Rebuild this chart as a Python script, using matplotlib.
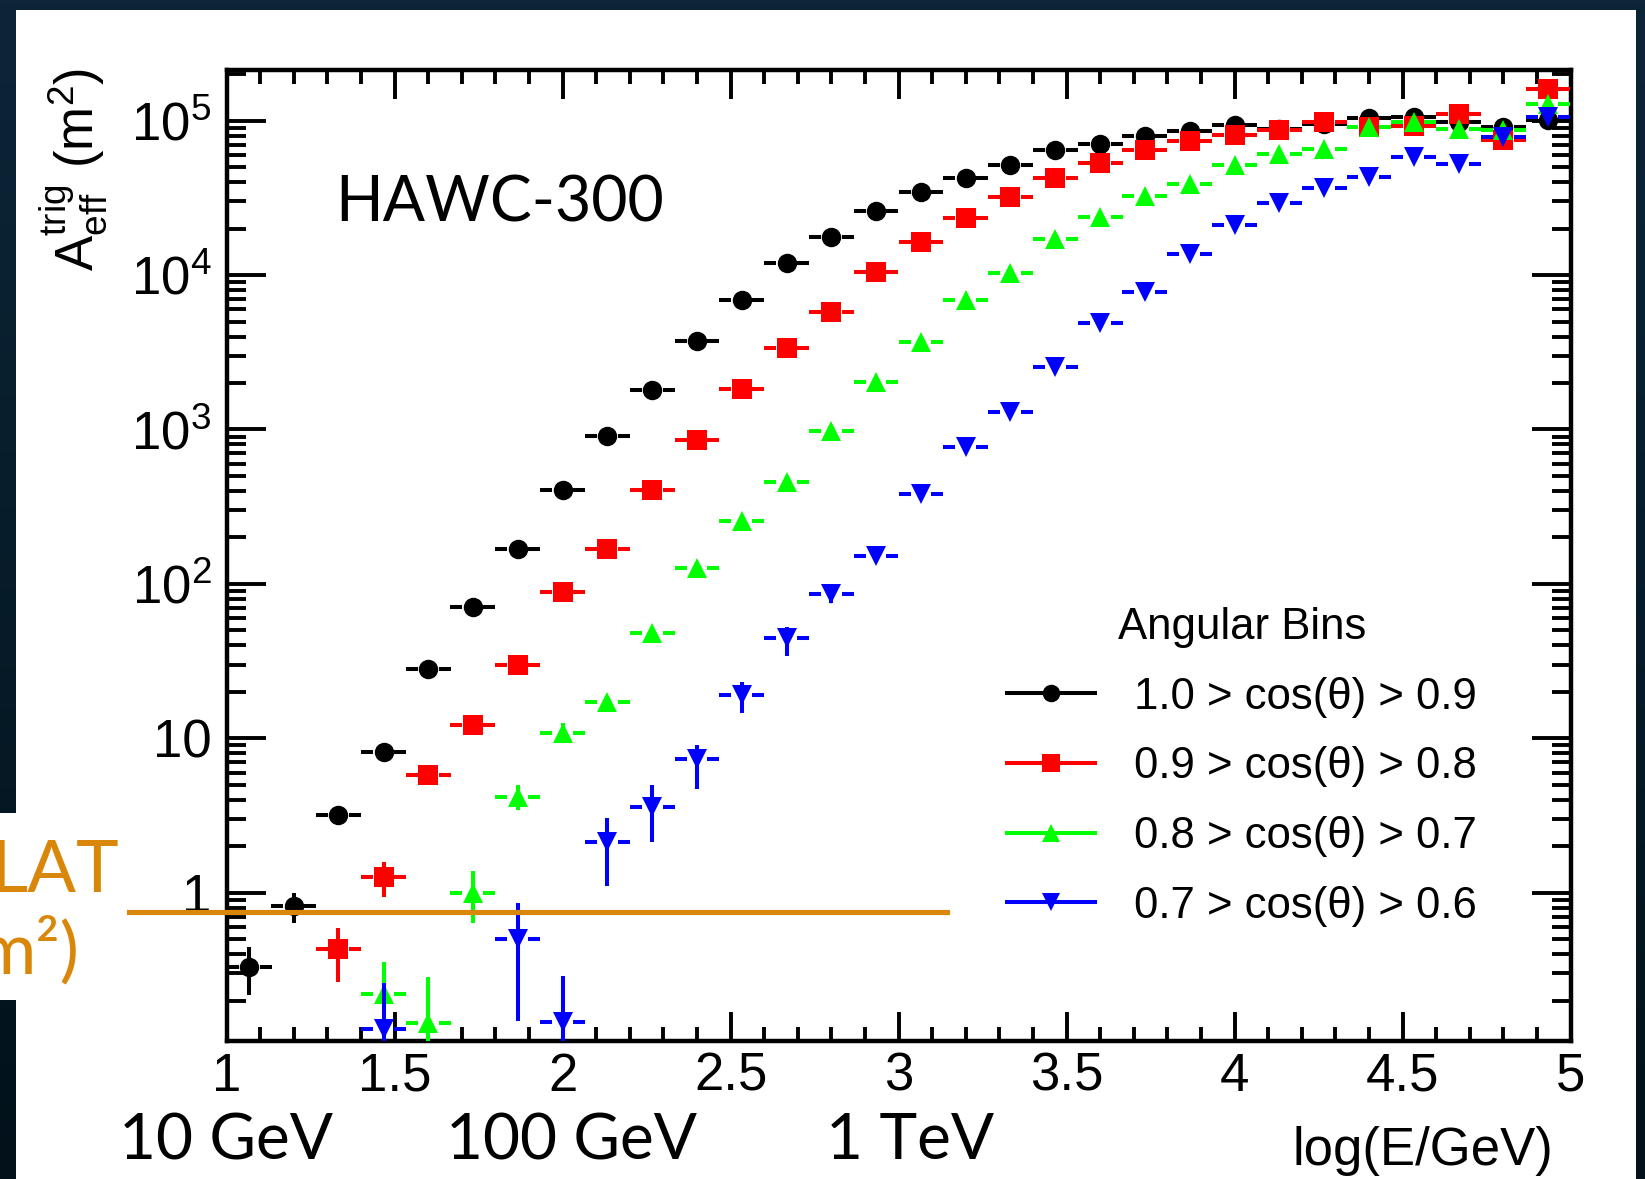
import numpy as np
import matplotlib
matplotlib.use('Agg')
import matplotlib.pyplot as plt
from matplotlib.lines import Line2D
from matplotlib.patches import Rectangle
from matplotlib.colors import LinearSegmentedColormap
from matplotlib.ticker import FixedLocator, FixedFormatter, MultipleLocator, LogLocator, NullFormatter

plt.rcParams['font.family'] = ['Liberation Sans', 'DejaVu Sans']
plt.rcParams['mathtext.default'] = 'regular'
plt.rcParams['mathtext.fontset'] = 'custom'
plt.rcParams['mathtext.rm'] = 'Liberation Sans'
plt.rcParams['mathtext.it'] = 'Liberation Sans:italic'
plt.rcParams['mathtext.bf'] = 'Liberation Sans:bold'

# ---------------- data ----------------
log_e = [1.067, 1.200, 1.333, 1.467, 1.600, 1.733, 1.867, 2.000, 2.133, 2.267,
         2.400, 2.533, 2.667, 2.800, 2.933, 3.067, 3.200, 3.333, 3.467, 3.600,
         3.733, 3.867, 4.000, 4.133, 4.267, 4.400, 4.533, 4.667, 4.800, 4.933]
bin_half_width = 0.0667

N = None
black_vals = [0.33, 0.82, 3.2, 8.1, 28, 71, 169, 406, 902, 1795,
              3740, 6890, 11900, 17600, 26000, 34500, 42300, 51800, 64500, 71000,
              79000, 85500, 94000, 89000, 95000, 104000, 106000, 98500, 90400, 101000]
black_lo = [0.218, 0.635] + [N] * 28
black_hi = [0.447, 1.0] + [N] * 28

red_vals = [N, N, 0.43, 1.27, 5.8, 12.2, 29.8, 88, 169, 406,
            860, 1820, 3360, 5800, 10500, 16300, 23300, 31900, 42300, 53400,
            64500, 74300, 80300, 87000, 98500, 91600, 92500, 110000, 74900, 160000]
red_lo = [N, N, 0.265, 0.935] + [N] * 26
red_hi = [N, N, 0.59, 1.59] + [N] * 26

green_vals = [N, N, N, 0.22, 0.144, 1.0, 4.15, 10.9, 17.2, 48.4,
              126, 254, 460, 975, 2030, 3690, 6890, 10350, 17100, 23700,
              32400, 39100, 51800, 60600, 65600, 91000, 98000, 89000, 87000, 128000]
green_lo = [N, N, N, 0.05, 0.05, 0.64, 3.44, 9.3] + [N] * 22
green_hi = [N, N, N, 0.354, 0.286, 1.39, 5.0, 12.6] + [N] * 22

blue_vals = [N, N, N, 0.131, N, N, 0.50, 0.146, 2.12, 3.6,
             7.3, 19.2, 44.8, 86, 152, 382, 771, 1290, 2530, 4890,
             7810, 13700, 21200, 29500, 36700, 43400, 58500, 52400, 78700, 106000]
blue_lo = [N, N, N, 0.05, N, N, 0.148, 0.05, 1.1, 2.12, 4.7, 14.5, 34.3, 75] + [N] * 16
blue_hi = [N, N, N, 0.26, N, N, 0.855, 0.29, 3.04, 5.0, 9.1, 23.2, 52.3, 99] + [N] * 16

series_labels = ['1.0 > cos(\u03b8) > 0.9', '0.9 > cos(\u03b8) > 0.8',
                 '0.8 > cos(\u03b8) > 0.7', '0.7 > cos(\u03b8) > 0.6']
legend_title = 'Angular Bins'

xtick_vals = [1, 1.5, 2, 2.5, 3, 3.5, 4, 4.5, 5]
xtick_labels = ['1', '1.5', '2', '2.5', '3', '3.5', '4', '4.5', '5']
ytick_vals = [1, 10, 1e2, 1e3, 1e4, 1e5]
ytick_labels = ['1', '10', '$10^{2}$', '$10^{3}$', '$10^{4}$', '$10^{5}$']

lat_area = 0.755
lat_x = [0.71, 3.145]

# ---------------- figure ----------------
W, H = 1645, 1179
fig = plt.figure(figsize=(W / 100, H / 100), dpi=100)

bg = fig.add_axes([0, 0, 1, 1])
bg.set_zorder(-10)
cmap = LinearSegmentedColormap.from_list('bg', ['#0c2638', '#02111a'])
bg.imshow(np.linspace(0, 1, 256).reshape(-1, 1), aspect='auto', cmap=cmap,
          extent=[0, 1, 0, 1], origin='upper')
bg.axis('off')

fig.add_artist(Rectangle((16 / W, 0), 1620 / W, 1169 / H, transform=fig.transFigure,
                         facecolor='white', edgecolor='none', zorder=-5))
fig.add_artist(Rectangle((0, (H - 1000) / H), 17 / W, 187 / H, transform=fig.transFigure,
                         facecolor='white', edgecolor='none', zorder=-5))

ax = fig.add_axes([226.6 / W, (H - 1040.7) / H, (1570.5 - 226.6) / W, (1040.7 - 70.3) / H])
ax.set_facecolor('white')
ax.set_yscale('log')
ax.set_xlim(1, 5)
ax.set_ylim(0.11, 2.12e5)

x = np.array(log_e)
lw = 2.9
gap = 0.031
styles = [
    ('black', 'o', 14, black_vals, black_lo, black_hi),
    ('#ff0000', 's', 14, red_vals, red_lo, red_hi),
    ('#00ff00', '^', 15, green_vals, green_lo, green_hi),
    ('#0000ff', 'v', 15, blue_vals, blue_lo, blue_hi),
]
for i, (c, m, ms, vals, lo, hi) in enumerate(styles):
    y = np.array([np.nan if v is None else v for v in vals], float)
    ylo = np.array([np.nan if v is None else v for v in lo], float)
    yhi = np.array([np.nan if v is None else v for v in hi], float)
    ok = ~np.isnan(y)
    z = 2 + i
    ax.hlines(y[ok], x[ok] - bin_half_width, x[ok] - gap, color=c, lw=lw, zorder=z)
    ax.hlines(y[ok], x[ok] + gap, x[ok] + bin_half_width, color=c, lw=lw, zorder=z)
    me = ~np.isnan(ylo)
    ax.vlines(x[me], ylo[me], yhi[me], color=c, lw=lw, zorder=z)
    ax.plot(x[ok], y[ok], ls='none', marker=m, ms=ms, color=c, mew=0, zorder=z)

orange = '#d9870b'
ax.plot(lat_x, [lat_area, lat_area], color=orange, lw=3.7, clip_on=False, zorder=10)

# axes styling
for s in ax.spines.values():
    s.set_linewidth(3.2)
ax.xaxis.set_major_locator(FixedLocator(xtick_vals))
ax.xaxis.set_major_formatter(FixedFormatter(xtick_labels))
ax.xaxis.set_minor_locator(MultipleLocator(0.1))
ax.yaxis.set_major_locator(FixedLocator(ytick_vals))
ax.yaxis.set_major_formatter(FixedFormatter(ytick_labels))
ax.yaxis.set_minor_locator(LogLocator(base=10, subs=np.arange(2, 10), numticks=20))
ax.yaxis.set_minor_formatter(NullFormatter())
ax.tick_params(which='both', direction='in', top=True, right=True, width=2.8, labelsize=38)
ax.tick_params(axis='x', which='major', length=21, pad=8)
ax.tick_params(axis='x', which='minor', length=10)
ax.tick_params(axis='y', which='major', length=28, pad=11)
ax.tick_params(axis='y', which='minor', length=14)

# legend
handles = [Line2D([], [], color=c, marker=m, ms=ms * 0.9, lw=lw, mew=0)
           for (c, m, ms, *_rest) in styles]
leg = ax.legend(handles, series_labels, title=legend_title, loc='upper left',
                bbox_to_anchor=(1007 / W, 1 - 607 / H), bbox_transform=fig.transFigure,
                frameon=False, fontsize=31.5, title_fontsize=31.5, handlelength=2.0,
                handletextpad=0.9, labelspacing=0.655, borderpad=0, borderaxespad=0)

# texts
fig.text(74 / W, 1 - 68 / H, r'$A_{eff}^{trig}$ (m$^{2}$)', rotation=90, ha='center', va='top',
         fontsize=38)
fig.text(335 / W, 1 - 221.7 / H, 'HAWC-300', family='Lato', fontsize=45, va='baseline', ha='left')
for lab, cx in [('10 GeV', 226), ('100 GeV', 571.6), ('1 TeV', 910)]:
    fig.text(cx / W, 1 - 1159 / H, lab, family='Lato', fontsize=46, va='baseline', ha='center')
fig.text(1553 / W, 1 - 1165 / H, 'log(E/GeV)', fontsize=38, va='baseline', ha='right')
fig.text(119 / W, 1 - 892 / H, 'LAT', family='Lato', fontsize=52, va='baseline', ha='right',
         color=orange)
fig.text(80 / W, 1 - 973 / H, 'm\u00b2)', family='Lato', fontsize=52, va='baseline', ha='right',
         color=orange)

fig.savefig('out.png', dpi=100)
